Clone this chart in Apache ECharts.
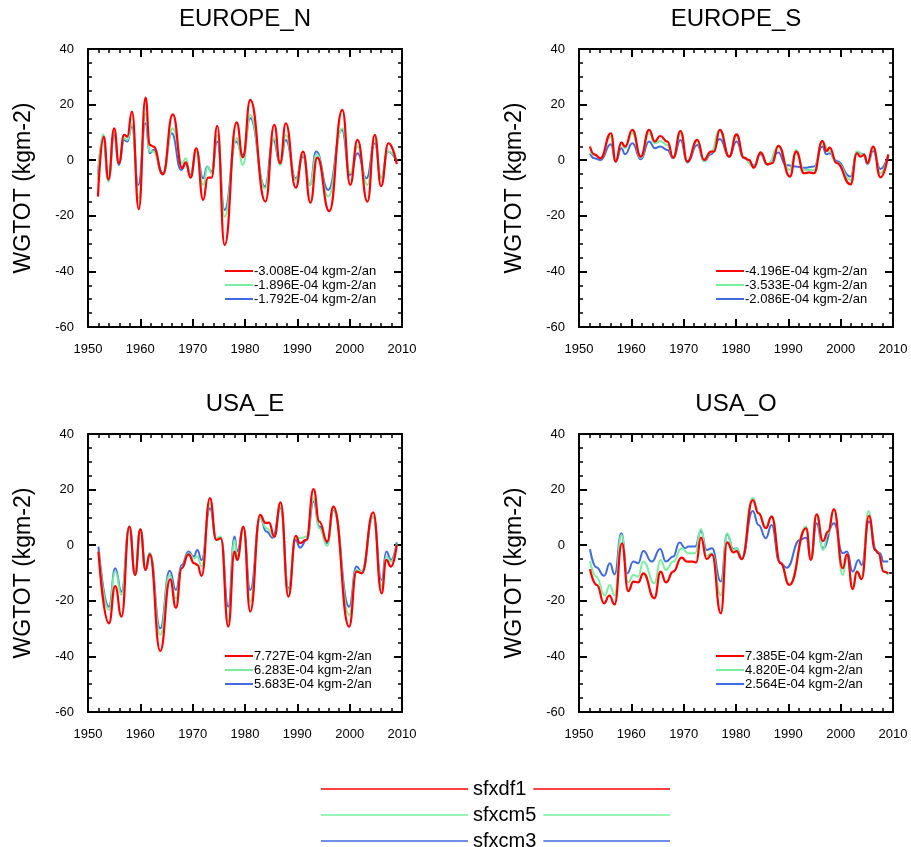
<!DOCTYPE html>
<html>
<head>
<meta charset="utf-8">
<script src="https://cdn.jsdelivr.net/npm/echarts@6/dist/echarts.min.js"></script>
<style>
  html, body { margin: 0; padding: 0; background: #fff; }
  #chart { width: 911px; height: 847px; }
</style>
</head>
<body>
<div id="chart"></div>
<script>
// ---- Runs ----
const runNames = ['sfxdf1', 'sfxcm5', 'sfxcm3'];
const runColors = ['#ff0000', '#78f0a0', '#4169e1'];

// ---- Panels ----
const panelTitles = ['EUROPE_N', 'EUROPE_S', 'USA_E', 'USA_O'];
const trendValues = [
  ['-3.008E-04', '-1.896E-04', '-1.792E-04'],
  ['-4.196E-04', '-3.533E-04', '-2.086E-04'],
  ['7.727E-04', '6.283E-04', '5.683E-04'],
  ['7.385E-04', '4.820E-04', '2.564E-04']
];
const trendUnit = ' kgm-2/an';
const yAxisTitle = 'WGTOT (kgm-2)';
const xTickMin = 1950, xTickMax = 2010, xTickStep = 10;
const yTickMin = -60, yTickMax = 40, yTickStep = 20;

// ---- EUROPE_N: [year, WGTOT anomaly] ----
const euNRed = [[1951.9,-13.1],[1953.0,8.5],[1953.9,-6.9],[1955.0,11.5],[1955.9,-1.1],[1956.9,9.1],[1957.5,8.5],[1958.4,17.5],[1959.7,-17.6],[1961.0,22.5],[1961.8,5.5],[1962.5,4.9],[1964.3,-5.1],[1966.2,16.5],[1968.0,-2.9],[1968.7,-0.8],[1969.6,-6.3],[1970.7,4.3],[1972.0,-14.3],[1972.9,-6.3],[1973.6,-6.3],[1974.7,12.4],[1976.1,-30.5],[1978.4,13.6],[1979.6,1.0],[1981.0,21.7],[1983.9,-14.9],[1985.6,12.7],[1986.7,-1.1],[1987.8,13.3],[1989.7,-9.9],[1991.1,3.1],[1992.5,-15.3],[1993.8,0.9],[1996.1,-18.3],[1998.6,18.1],[2000.1,-8.9],[2001.5,7.3],[2003.4,-14.9],[2004.8,9.1],[2006.0,-9.3],[2007.4,6.1],[2009.0,-1.4]];
const euNGreen = [[1951.9,-7.1],[1952.9,9.3],[1953.9,-7.7],[1955.0,10.3],[1955.9,-0.5],[1956.9,7.9],[1957.5,7.3],[1958.4,12.9],[1959.7,-13.7],[1961.0,16.9],[1961.8,3.1],[1962.5,3.1],[1964.3,-5.1],[1966.2,11.5],[1968.0,-1.1],[1968.7,0.7],[1969.6,-5.9],[1970.7,3.1],[1972.0,-8.9],[1972.9,-2.3],[1973.6,-4.7],[1974.7,9.1],[1976.1,-20.3],[1978.4,7.9],[1979.6,-1.7],[1981.0,16.3],[1983.8,-10.1],[1985.6,7.9],[1986.7,-1.7],[1987.8,9.1],[1989.7,-7.1],[1991.1,1.9],[1992.4,-8.9],[1993.7,2.1],[1995.9,-13.1],[1998.6,11.5],[2000.1,-4.7],[2001.5,4.9],[2003.4,-8.9],[2004.8,7.3],[2006.0,-6.5],[2007.4,3.1],[2009.0,0.1]];
const euNBlue = [[1951.9,-5.3],[1952.9,7.9],[1953.9,-7.1],[1955.0,9.1],[1955.9,-1.7],[1956.9,7.3],[1957.5,6.7],[1958.4,12.1],[1959.6,-8.9],[1961.0,13.3],[1961.8,2.5],[1962.5,3.7],[1964.3,-4.7],[1966.0,9.7],[1967.8,-3.5],[1968.6,-1.1],[1969.6,-5.3],[1970.7,3.1],[1972.0,-6.5],[1972.8,-2.3],[1973.6,-4.1],[1974.7,6.7],[1976.1,-17.9],[1978.3,6.7],[1979.6,1.9],[1981.0,15.1],[1983.8,-9.5],[1985.4,7.3],[1986.7,-1.1],[1987.8,7.3],[1989.7,-6.5],[1991.1,1.3],[1992.4,-8.9],[1993.6,3.1],[1995.9,-10.7],[1998.5,10.9],[2000.1,-5.3],[2001.5,2.5],[2003.2,-6.5],[2004.8,6.1],[2006.0,-6.5],[2007.3,3.1],[2009.0,-0.3]];

// ---- EUROPE_S ----
const euSRed = [[1952.1,4.9],[1952.9,2.1],[1954.1,0.7],[1956.1,9.7],[1957.0,-0.5],[1958.1,6.4],[1958.8,4.9],[1960.2,10.9],[1961.8,1.3],[1963.4,10.9],[1964.5,6.7],[1965.5,8.7],[1966.9,6.7],[1968.0,0.9],[1969.4,10.5],[1970.7,-0.5],[1972.6,7.3],[1973.9,0.1],[1975.2,3.1],[1975.8,3.1],[1976.9,10.9],[1978.7,1.3],[1980.1,9.3],[1981.5,0.9],[1982.5,0.1],[1983.4,-2.7],[1984.7,2.8],[1986.0,-1.5],[1986.9,-1.1],[1988.1,5.2],[1990.3,-5.9],[1991.5,3.1],[1993.0,-4.7],[1994.0,-4.4],[1994.9,-4.7],[1996.5,6.9],[1997.3,3.3],[1997.9,4.5],[1999.2,-1.0],[2001.9,-8.7],[2003.1,2.5],[2003.8,1.3],[2004.5,1.9],[2005.1,-1.1],[2006.2,4.9],[2007.6,-6.2],[2009.1,2.1]];
const euSGreen = [[1952.1,2.8],[1952.9,1.9],[1954.1,0.7],[1956.1,8.5],[1957.0,-0.5],[1958.1,6.1],[1958.8,4.3],[1960.2,9.7],[1961.8,0.9],[1963.4,9.7],[1964.5,6.1],[1965.5,6.9],[1966.9,5.5],[1968.0,0.9],[1969.4,9.7],[1970.7,-0.5],[1972.6,6.7],[1973.9,-0.3],[1975.2,2.8],[1976.9,10.9],[1978.7,1.3],[1980.1,9.1],[1981.5,0.7],[1983.4,-2.3],[1984.7,2.8],[1986.0,-1.7],[1988.1,4.9],[1990.2,-3.5],[1991.5,3.7],[1993.0,-3.5],[1994.9,-3.5],[1996.5,6.7],[1997.9,3.1],[1999.2,-0.8],[2001.9,-7.1],[2003.1,3.1],[2004.5,1.9],[2005.1,-1.5],[2006.2,4.3],[2007.6,-4.7],[2009.1,1.9]];
const euSBlue = [[1952.1,2.5],[1952.9,0.7],[1954.1,0.1],[1956.1,5.7],[1957.0,-0.5],[1958.1,4.3],[1958.8,2.1],[1960.2,6.1],[1961.8,0.3],[1963.4,6.7],[1964.5,4.3],[1965.5,4.9],[1966.9,3.7],[1968.0,0.7],[1969.4,7.3],[1970.7,-0.8],[1972.6,5.5],[1973.9,-0.3],[1975.2,2.1],[1976.9,7.6],[1978.7,1.3],[1980.1,6.7],[1981.5,0.7],[1983.4,-1.9],[1984.7,2.1],[1986.0,-1.5],[1988.1,2.8],[1989.5,-1.7],[1991.4,-2.3],[1993.0,-2.7],[1994.9,-2.3],[1996.5,4.9],[1997.3,2.1],[1997.9,2.5],[1999.2,-0.3],[2001.9,-5.9],[2003.1,2.8],[2004.5,2.1],[2005.1,-1.5],[2006.2,3.3],[2007.6,-3.2],[2009.1,1.9]];

// ---- USA_E ----
const usERed = [[1952.0,-2.3],[1954.0,-28.1],[1955.2,-14.7],[1956.4,-25.7],[1957.9,6.7],[1959.0,-10.7],[1960.0,5.7],[1961.0,-8.9],[1961.8,-3.3],[1963.8,-38.1],[1965.7,-12.3],[1966.8,-22.5],[1967.9,-8.3],[1969.2,-3.3],[1970.3,-6.5],[1970.9,-7.1],[1971.7,-11.0],[1973.3,16.9],[1974.5,1.9],[1975.4,2.5],[1976.8,-29.3],[1978.0,-2.3],[1978.5,-5.3],[1979.7,6.7],[1981.0,-23.9],[1982.9,10.9],[1983.9,8.0],[1984.6,8.1],[1985.6,3.1],[1986.8,15.4],[1988.3,-18.5],[1989.7,3.4],[1990.5,0.7],[1991.7,1.9],[1993.1,20.2],[1994.2,8.5],[1995.7,1.3],[1996.9,13.9],[1999.9,-29.3],[2001.3,-9.5],[2002.3,-10.1],[2004.5,11.8],[2006.1,-17.3],[2007.0,-5.3],[2007.9,-7.7],[2009.0,0.1]];
const usEGreen = [[1952.0,-2.3],[1954.0,-23.3],[1955.2,-9.5],[1956.4,-17.9],[1957.9,6.7],[1959.0,-10.7],[1960.0,5.7],[1961.0,-8.9],[1961.8,-2.9],[1963.8,-32.3],[1965.6,-10.7],[1966.8,-19.1],[1967.9,-8.3],[1969.2,-2.9],[1970.3,-4.7],[1970.9,-4.1],[1971.7,-7.7],[1973.3,15.1],[1974.5,2.5],[1975.4,3.1],[1976.8,-27.5],[1978.0,1.9],[1978.5,-4.1],[1979.7,5.5],[1981.0,-20.3],[1982.9,9.7],[1984.1,6.1],[1985.6,3.1],[1986.8,13.9],[1988.3,-16.1],[1989.7,3.1],[1990.6,2.5],[1991.8,3.1],[1993.1,16.9],[1994.2,6.1],[1995.7,-0.2],[1996.9,13.0],[1999.9,-25.1],[2001.3,-8.9],[2002.3,-9.5],[2004.5,10.3],[2006.1,-14.9],[2007.0,-4.1],[2007.9,-5.9],[2009.0,0.3]];
const usEBlue = [[1952.0,-0.5],[1954.0,-22.1],[1955.2,-8.3],[1956.4,-16.7],[1957.9,6.7],[1959.0,-10.7],[1960.0,5.7],[1961.0,-8.9],[1961.8,-2.9],[1963.8,-29.9],[1965.6,-9.2],[1966.8,-16.1],[1967.9,-7.1],[1969.2,-2.3],[1970.2,-4.1],[1970.9,-1.7],[1971.7,-5.3],[1973.3,13.3],[1974.5,2.5],[1975.4,2.5],[1976.8,-22.1],[1978.0,3.1],[1978.5,-2.3],[1979.7,6.1],[1981.0,-16.1],[1982.9,9.7],[1984.1,4.9],[1985.3,2.7],[1986.8,13.3],[1988.3,-15.5],[1989.7,1.9],[1990.5,-0.9],[1991.8,1.9],[1993.1,15.7],[1994.2,6.7],[1995.7,0.7],[1996.9,12.7],[1999.9,-22.1],[2001.3,-7.7],[2002.3,-9.5],[2004.5,10.3],[2006.1,-12.5],[2007.0,-2.3],[2007.9,-5.3],[2009.0,1.0]];

// ---- USA_O ----
const usORed = [[1952.1,-8.6],[1953.4,-14.3],[1954.8,-20.9],[1955.8,-18.1],[1956.8,-21.3],[1958.2,0.7],[1959.4,-16.5],[1960.4,-13.1],[1961.3,-13.4],[1962.3,-10.1],[1964.4,-19.1],[1965.6,-9.5],[1966.6,-13.4],[1968.0,-9.5],[1969.6,-4.5],[1970.6,-5.9],[1971.7,-5.9],[1972.4,-6.2],[1973.3,2.7],[1974.4,-5.0],[1975.4,-3.3],[1977.1,-24.5],[1978.3,1.0],[1979.5,-2.6],[1980.1,-2.1],[1981.1,-5.0],[1983.2,16.2],[1984.3,11.5],[1985.7,6.1],[1986.8,10.3],[1988.5,-6.5],[1990.2,-14.3],[1993.4,6.1],[1994.3,-5.3],[1995.4,11.1],[1996.6,1.5],[1997.6,4.9],[1998.7,13.0],[2000.4,-8.3],[2001.2,-3.3],[2002.3,-15.8],[2003.1,-9.5],[2004.0,-12.2],[2005.4,10.6],[2006.6,-1.7],[2007.2,-2.9],[2008.2,-9.5],[2009.1,-10.1]];
const usOGreen = [[1952.1,-5.7],[1953.3,-11.3],[1954.9,-18.1],[1955.9,-14.3],[1956.8,-18.1],[1958.1,3.7],[1959.4,-13.4],[1960.4,-10.7],[1961.3,-11.3],[1962.3,-5.9],[1964.4,-13.7],[1965.6,-5.3],[1966.6,-8.9],[1968.0,-5.9],[1969.6,-1.1],[1970.9,-2.9],[1972.2,-2.9],[1973.3,5.8],[1974.4,-3.8],[1975.4,-2.9],[1977.1,-18.1],[1978.3,4.3],[1979.5,-1.7],[1980.1,-1.1],[1981.1,-4.7],[1983.2,17.1],[1984.3,11.8],[1985.7,6.7],[1986.8,10.6],[1988.5,-6.5],[1990.2,-14.1],[1993.4,6.7],[1994.3,-4.7],[1995.4,10.9],[1996.6,-1.7],[1997.6,4.3],[1998.7,12.7],[2000.4,-10.7],[2001.2,-4.1],[2002.3,-15.5],[2003.1,-9.5],[2004.0,-11.3],[2005.3,12.3],[2006.6,-1.7],[2007.2,-2.9],[2008.2,-9.5],[2009.1,-10.7]];
const usOBlue = [[1952.1,-1.4],[1953.3,-7.9],[1954.8,-11.0],[1955.9,-6.5],[1956.8,-10.5],[1958.1,4.3],[1959.2,-10.1],[1960.4,-5.9],[1961.3,-6.5],[1962.3,-2.1],[1963.9,-5.9],[1965.5,-1.4],[1966.6,-5.9],[1968.0,-4.1],[1969.2,1.0],[1970.3,-1.1],[1970.9,-0.5],[1972.2,-0.5],[1973.3,5.1],[1974.4,-1.7],[1975.4,-1.1],[1977.1,-13.1],[1978.3,3.9],[1979.5,-1.4],[1980.1,-1.1],[1981.1,-4.7],[1983.2,12.3],[1984.3,7.3],[1985.7,2.5],[1986.8,7.3],[1988.3,-6.0],[1989.7,-8.1],[1992.2,1.9],[1993.4,2.7],[1994.3,-4.7],[1995.4,7.9],[1996.6,-1.1],[1998.7,7.9],[2000.4,-2.9],[2001.2,-2.3],[2002.3,-9.5],[2003.4,-5.3],[2004.0,-7.1],[2005.4,8.5],[2006.9,-2.3],[2007.5,-2.9],[2008.2,-5.9],[2009.1,-5.9]];

const panelSeries = [
  [euNRed, euNGreen, euNBlue],
  [euSRed, euSGreen, euSBlue],
  [usERed, usEGreen, usEBlue],
  [usORed, usOGreen, usOBlue]
];

// ---- Layout ----
const FONT = 'Liberation Sans, Arial, Helvetica, sans-serif';
const boxW = 314, boxH = 278;
const boxes = [
  { left: 88, top: 49 }, { left: 579, top: 49 },
  { left: 88, top: 434 }, { left: 579, top: 434 }
];

const chart = echarts.init(document.getElementById('chart'), null, { renderer: 'canvas' });

const axisLineStyle = { color: '#000', width: 2 };
const plainNumber = v => String(v);

function xAxisFor(i, pos) {
  return {
    gridIndex: i, type: 'value', position: pos,
    min: xTickMin, max: xTickMax, interval: xTickStep,
    axisLine: { show: true, onZero: false, lineStyle: axisLineStyle },
    axisTick: { show: true, inside: true, length: 8, lineStyle: { color: '#000', width: 2 } },
    minorTick: { show: true, splitNumber: 5, length: 4, lineStyle: { color: '#000', width: 1.5 } },
    axisLabel: { show: pos === 'bottom', margin: 16, fontSize: 13, color: '#000', fontFamily: FONT, formatter: plainNumber },
    splitLine: { show: false }, minorSplitLine: { show: false }
  };
}
function yAxisFor(i, pos) {
  return {
    gridIndex: i, type: 'value', position: pos,
    min: yTickMin, max: yTickMax, interval: yTickStep,
    axisLine: { show: true, onZero: false, lineStyle: axisLineStyle },
    axisTick: { show: true, inside: true, length: 8, lineStyle: { color: '#000', width: 2 } },
    minorTick: { show: true, splitNumber: 4, length: 4, lineStyle: { color: '#000', width: 1.5 } },
    axisLabel: { show: pos === 'left', margin: 14, fontSize: 13, color: '#000', fontFamily: FONT, formatter: plainNumber },
    splitLine: { show: false }, minorSplitLine: { show: false },
    name: pos === 'left' ? yAxisTitle : '',
    nameLocation: 'middle', nameRotate: 90, nameGap: 53,
    nameTextStyle: { fontSize: 23, color: '#000', fontFamily: FONT }
  };
}

const grids = [], xAxes = [], yAxes = [], series = [], graphics = [];
boxes.forEach((b, i) => {
  grids.push({ left: b.left, top: b.top, width: boxW, height: boxH, containLabel: false });
  xAxes.push(xAxisFor(i, 'bottom'), xAxisFor(i, 'top'));
  yAxes.push(yAxisFor(i, 'left'), yAxisFor(i, 'right'));
  // draw order: sfxcm3, sfxcm5, then sfxdf1 on top
  [2, 1, 0].forEach(r => {
    series.push({
      name: runNames[r], type: 'line',
      xAxisIndex: 2 * i, yAxisIndex: 2 * i,
      data: panelSeries[i][r],
      showSymbol: false, smooth: 0.5, smoothMonotone: 'x',
      lineStyle: { color: runColors[r], width: r === 0 ? 2.2 : 2 },
      itemStyle: { color: runColors[r] },
      silent: true, animation: false
    });
  });
  // panel title
  graphics.push({
    type: 'text', x: b.left + boxW / 2, y: b.top - 30,
    style: { text: panelTitles[i], fill: '#000', font: '24px ' + FONT, textAlign: 'center', textVerticalAlign: 'middle' }
  });
  // trend key inside the panel
  [0, 1, 2].forEach(r => {
    const yy = b.top + 222 + r * 14;
    graphics.push({
      type: 'line', shape: { x1: b.left + 137, y1: yy, x2: b.left + 165, y2: yy },
      style: { stroke: runColors[r], lineWidth: 2 }
    });
    graphics.push({
      type: 'text', x: b.left + 166, y: yy,
      style: { text: trendValues[i][r] + trendUnit, fill: '#000', font: '13px ' + FONT, textAlign: 'left', textVerticalAlign: 'middle' }
    });
  });
});

// bottom key: line - name - line
const ctx = document.createElement('canvas').getContext('2d');
ctx.font = '20px ' + FONT;
runNames.forEach((nm, r) => {
  const yy = 789 + r * 26;
  const tx = 473;
  const tw = ctx.measureText(nm).width;
  graphics.push({ type: 'line', shape: { x1: 321, y1: yy, x2: 468, y2: yy }, style: { stroke: runColors[r], lineWidth: 1.5 } });
  graphics.push({ type: 'line', shape: { x1: tx + tw + 7, y1: yy, x2: 670, y2: yy }, style: { stroke: runColors[r], lineWidth: 1.5 } });
  graphics.push({
    type: 'text', x: tx, y: yy,
    style: { text: nm, fill: '#000', font: '20px ' + FONT, textAlign: 'left', textVerticalAlign: 'middle' }
  });
});

chart.setOption({
  backgroundColor: '#fff',
  animation: false,
  grid: grids,
  xAxis: xAxes,
  yAxis: yAxes,
  series: series,
  graphic: graphics
});
</script>
</body>
</html>
